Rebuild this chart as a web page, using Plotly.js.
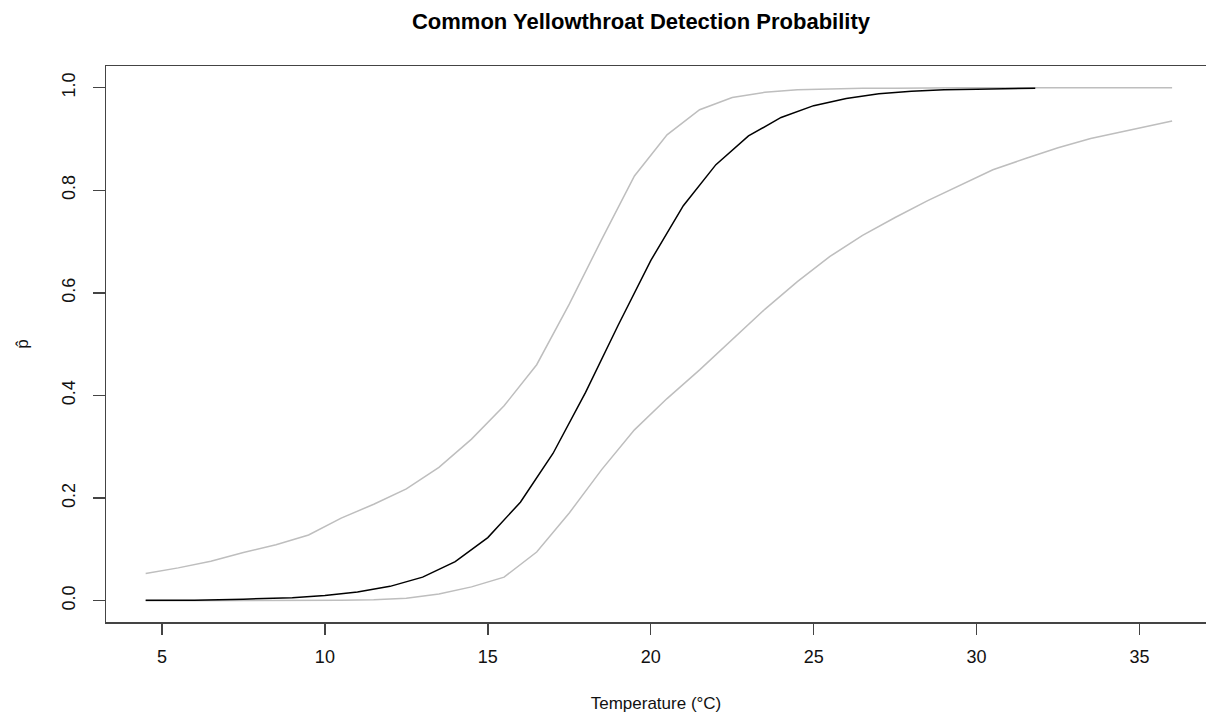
<!DOCTYPE html>
<html>
<head>
<meta charset="utf-8">
<script src="https://cdn.plot.ly/plotly-3.0.1.min.js"></script>
<style>html,body{margin:0;padding:0;background:#fff;}#chart{width:1206px;height:719px;}</style>
</head>
<body>
<div id="chart"></div>
<script>
// Temperature grid for the confidence bounds (°C)
var tempCI = [4.5, 5.5, 6.5, 7.5, 8.5, 9.5, 10.5, 11.5, 12.5, 13.5, 14.5, 15.5, 16.5, 17.5, 18.5, 19.5, 20.5,
              21.5, 22.5, 23.5, 24.5, 25.5, 26.5, 27.5, 28.5, 29.5, 30.5, 31.5, 32.5, 33.5, 34.5, 35.5, 36];
// Upper confidence bound
var pUpper = [0.053, 0.064, 0.077, 0.094, 0.109, 0.128, 0.161, 0.188, 0.218, 0.260, 0.315, 0.380, 0.460, 0.578, 0.705, 0.828, 0.908,
              0.957, 0.981, 0.991, 0.996, 0.998, 0.999, 0.999, 1.000, 1.000, 1.000, 1.000, 1.000, 1.000, 1.000, 1.000, 1.000];
// Lower confidence bound
var pLower = [0.000, 0.000, 0.000, 0.000, 0.000, 0.000, 0.001, 0.002, 0.005, 0.013, 0.027, 0.046, 0.095, 0.171, 0.256, 0.333, 0.394,
              0.450, 0.508, 0.568, 0.622, 0.671, 0.712, 0.747, 0.780, 0.810, 0.840, 0.862, 0.883, 0.901, 0.915, 0.928, 0.935];
// Temperature grid for the fitted detection probability
var tempMean = [4.5, 6, 7.5, 9, 10, 11, 12, 13, 14, 15, 16, 17, 18, 19, 20, 21, 22, 23, 24, 25, 26, 27, 28, 29, 30, 31, 31.8];
// Fitted detection probability (p-hat)
var pMean = [0.001, 0.001, 0.003, 0.006, 0.010, 0.017, 0.028, 0.046, 0.076, 0.123, 0.192, 0.287, 0.406, 0.537, 0.663, 0.770, 0.850,
             0.906, 0.942, 0.965, 0.979, 0.988, 0.993, 0.996, 0.997, 0.998, 0.999];
// Axis ticks
var xTicks = [5, 10, 15, 20, 25, 30, 35];
var yTicks = [0, 0.2, 0.4, 0.6, 0.8, 1.0];
var yTickText = ["0.0", "0.2", "0.4", "0.6", "0.8", "1.0"];

var traces = [
  {x: tempCI, y: pUpper, type: 'scatter', mode: 'lines', line: {color: '#BEBEBE', width: 1.5}, hoverinfo: 'x+y', name: 'Upper'},
  {x: tempCI, y: pLower, type: 'scatter', mode: 'lines', line: {color: '#BEBEBE', width: 1.5}, hoverinfo: 'x+y', name: 'Lower'},
  {x: tempMean, y: pMean, type: 'scatter', mode: 'lines', line: {color: '#000000', width: 1.5}, hoverinfo: 'x+y', name: 'p̂'}
];

var tickFont = {family: 'Liberation Sans, Arial, sans-serif', size: 18, color: '#111'};
var layout = {
  width: 1206, height: 719,
  margin: {l: 106, r: 0, t: 66, b: 97, pad: 0},
  paper_bgcolor: '#fff', plot_bgcolor: '#fff',
  showlegend: false,
  title: {
    text: 'Common Yellowthroat Detection Probability',
    font: {family: 'Liberation Sans, Arial, sans-serif', size: 22, color: '#000', weight: 'bold'},
    x: 0.5315, xref: 'container', xanchor: 'center',
    y: 0.971, yref: 'container', yanchor: 'middle'
  },
  xaxis: {
    range: [3.283, 37.04], autorange: false,
    tickvals: xTicks, ticktext: xTicks.map(String),
    ticks: 'outside', ticklen: 11, tickwidth: 1.5, tickcolor: '#444',
    showline: true, linecolor: '#444', linewidth: 1.5, mirror: true,
    showgrid: false, zeroline: false,
    tickfont: tickFont, ticklabelstandoff: 7,
    title: {text: 'Temperature (°C)', font: {family: 'Liberation Sans, Arial, sans-serif', size: 17, color: '#111'}, standoff: 31}
  },
  yaxis: {
    range: [-0.0415, 1.0423], autorange: false,
    tickvals: yTicks, ticktext: yTickText,
    ticks: 'outside', ticklen: 12, tickwidth: 1.5, tickcolor: '#444',
    showline: true, linecolor: '#444', linewidth: 1.5, mirror: false,
    showgrid: false, zeroline: false,
    tickangle: -90,
    tickfont: tickFont, ticklabelstandoff: 10,
    title: {text: 'p̂', font: {family: 'Liberation Sans, Arial, sans-serif', size: 17, color: '#111'}, standoff: 26}
  }
};

Plotly.newPlot('chart', traces, layout, {displayModeBar: false, staticPlot: true});
</script>
</body>
</html>
